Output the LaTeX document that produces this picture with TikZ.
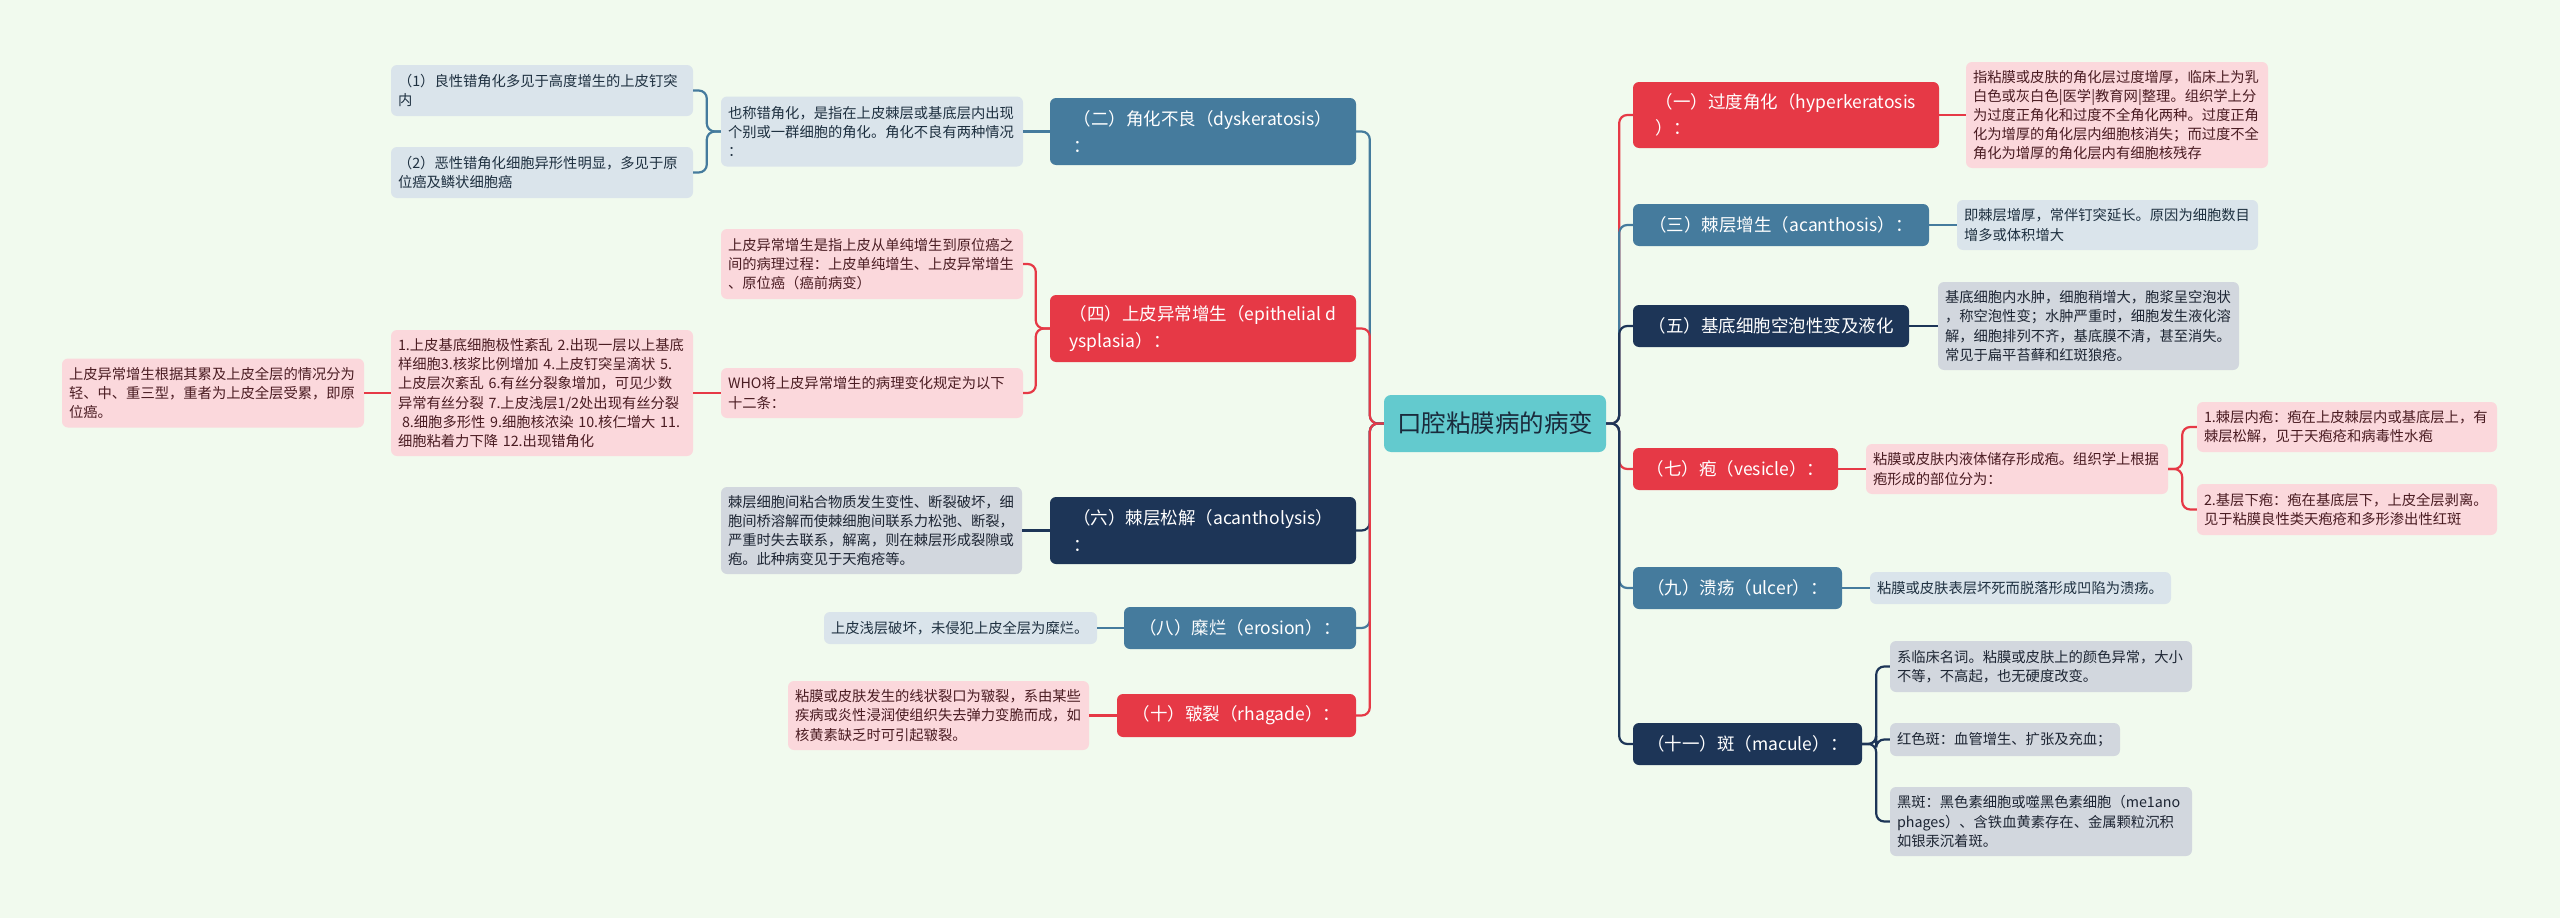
\documentclass[tikz,border=0pt]{standalone}
\usepackage{fontspec}
\setmainfont{Noto Sans CJK SC}
\definecolor{bg}{HTML}{F1FAEE}
\definecolor{cRed}{HTML}{E63946}
\definecolor{cBlue}{HTML}{457B9D}
\definecolor{cNavy}{HTML}{1D3557}
\definecolor{cTeal}{HTML}{63CACE}
\definecolor{pRed}{HTML}{FBD8DC}
\definecolor{pBlue}{HTML}{DAE4EB}
\definecolor{pNavy}{HTML}{D2D7DE}
\definecolor{tRed}{HTML}{4A1C22}
\definecolor{tBlue}{HTML}{1E3040}
\definecolor{tNavy}{HTML}{1D2533}
\definecolor{tCenter}{HTML}{1A2B3C}
\begin{document}
\begin{tikzpicture}[x=1pt,y=-1pt,
  mainbox/.style={rounded corners=6pt, text=white, font=\fontsize{17.5}{26.5}\selectfont, align=left, inner sep=0pt},
  redN/.style={mainbox, fill=cRed},
  blueN/.style={mainbox, fill=cBlue},
  navyN/.style={mainbox, fill=cNavy},
  detbox/.style={rounded corners=6pt, font=\fontsize{14.3}{19.2}\selectfont, align=left, inner xsep=7pt, inner ysep=0pt},
  dRed/.style={detbox, fill=pRed, text=tRed},
  dBlue/.style={detbox, fill=pBlue, text=tBlue},
  dNavy/.style={detbox, fill=pNavy, text=tNavy},
  link/.style={line width=2.2pt, rounded corners=8pt},
  sz/.style 2 args={minimum width=#1pt, minimum height=#2pt},
  dsz/.style 2 args={text width=#1pt-14pt, minimum height=#2pt}
]
\fill[bg] (0,0) rectangle (2560,918);
\useasboundingbox (0,0) rectangle (2560,918);

% center
\node[rounded corners=7pt, fill=cTeal, text=tCenter, font=\fontsize{24.5}{30}\selectfont, inner sep=0pt, sz={222}{57}] (c) at (1495,423.5) {口腔粘膜病的病变};

% left main nodes
\node[blueN, sz={306}{67}] (n2) at (1203,131.5) {（二）角化不良（dyskeratosis）\\：};
\node[redN, sz={306}{67}] (n4) at (1203,328.5) {（四）上皮异常增生（epithelial d\\ysplasia）：};
\node[navyN, sz={306}{67}] (n6) at (1203,530.5) {（六）棘层松解（acantholysis）\\：};
\node[blueN, sz={232}{42}] (n8) at (1240,628) {（八）糜烂（erosion）：};
\node[redN, sz={239}{43}] (n10) at (1236.5,715.5) {（十）皲裂（rhagade）：};

% right main nodes
\node[redN, sz={306}{66}] (n1) at (1786,115) {（一）过度角化（hyperkeratosis\\）：};
\node[blueN, sz={296}{42}] (n3) at (1781,225) {（三）棘层增生（acanthosis）：};
\node[navyN, sz={276}{42}] (n5) at (1771,326) {（五）基底细胞空泡性变及液化};
\node[redN, sz={205}{42}] (n7) at (1735.5,469) {（七）疱（vesicle）：};
\node[blueN, sz={209}{42}] (n9) at (1737.5,588) {（九）溃疡（ulcer）：};
\node[navyN, sz={229}{42}] (n11) at (1747.5,744) {（十一）斑（macule）：};

% left details
\node[dBlue, dsz={302}{70}] (d2) at (872,131.5) {也称错角化，是指在上皮棘层或基底层内出现\\个别或一群细胞的角化。角化不良有两种情况\\：};
\node[dBlue, dsz={302}{51}] (d2a) at (542,90.5) {（1）良性错角化多见于高度增生的上皮钉突\\内};
\node[dBlue, dsz={302}{51}] (d2b) at (542,172.5) {（2）恶性错角化细胞异形性明显，多见于原\\位癌及鳞状细胞癌};
\node[dRed, dsz={302}{70}] (d4a) at (872,264) {上皮异常增生是指上皮从单纯增生到原位癌之\\间的病理过程：上皮单纯增生、上皮异常增生\\、原位癌（癌前病变）};
\node[dRed, dsz={302}{50}] (d4b) at (872,393) {WHO将上皮异常增生的病理变化规定为以下\\十二条：};
\node[dRed, dsz={302}{126}] (d4c) at (542,393) {\mbox{1.上皮基底细胞极性紊乱 2.出现一层以上基底}\\\mbox{样细胞3.核浆比例增加 4.上皮钉突呈滴状 5.}\\\mbox{上皮层次紊乱 6.有丝分裂象增加，可见少数}\\\mbox{异常有丝分裂 7.上皮浅层1/2处出现有丝分裂}\\\mbox{\hspace*{4pt}8.细胞多形性 9.细胞核浓染 10.核仁增大 11.}\\\mbox{细胞粘着力下降 12.出现错角化}};
\node[dRed, dsz={302}{69}] (d4d) at (213,393) {上皮异常增生根据其累及上皮全层的情况分为\\轻、中、重三型，重者为上皮全层受累，即原\\位癌。};
\node[dNavy, dsz={301}{87}] (d6) at (871.5,530.5) {棘层细胞间粘合物质发生变性、断裂破坏，细\\胞间桥溶解而使棘细胞间联系力松弛、断裂，\\严重时失去联系，解离，则在棘层形成裂隙或\\疱。此种病变见于天疱疮等。};
\node[dBlue, dsz={273}{32}] (d8) at (960.5,628) {上皮浅层破坏，未侵犯上皮全层为糜烂。};
\node[dRed, dsz={301}{69}] (d10) at (938.5,715.5) {粘膜或皮肤发生的线状裂口为皲裂，系由某些\\疾病或炎性浸润使组织失去弹力变脆而成，如\\核黄素缺乏时可引起皲裂。};

% right details
\node[dRed, dsz={302}{106}] (d1) at (2117,115) {指粘膜或皮肤的角化层过度增厚，临床上为乳\\白色或灰白色|医学|教育网|整理。组织学上分\\为过度正角化和过度不全角化两种。过度正角\\化为增厚的角化层内细胞核消失；而过度不全\\角化为增厚的角化层内有细胞核残存};
\node[dBlue, dsz={301}{50}] (d3) at (2107.5,225) {即棘层增厚，常伴钉突延长。原因为细胞数目\\增多或体积增大};
\node[dNavy, dsz={301}{88}] (d5) at (2088.5,326) {基底细胞内水肿，细胞稍增大，胞浆呈空泡状\\，称空泡性变；水肿严重时，细胞发生液化溶\\解，细胞排列不齐，基底膜不清，甚至消失。\\常见于扁平苔藓和红斑狼疮。};
\node[dRed, dsz={302}{50}] (d7) at (2017,469) {粘膜或皮肤内液体储存形成疱。组织学上根据\\疱形成的部位分为：};
\node[dRed, dsz={300}{50}] (d7a) at (2347,427) {1.棘层内疱：疱在上皮棘层内或基底层上，有\\棘层松解，见于天疱疮和病毒性水疱};
\node[dRed, dsz={300}{51}] (d7b) at (2347,509.5) {2.基层下疱：疱在基底层下，上皮全层剥离。\\见于粘膜良性类天疱疮和多形渗出性红斑};
\node[dBlue, dsz={301}{32}] (d9) at (2020.5,588) {粘膜或皮肤表层坏死而脱落形成凹陷为溃疡。};
\node[dNavy, dsz={302}{51}] (d11a) at (2041,666.5) {系临床名词。粘膜或皮肤上的颜色异常，大小\\不等，不高起，也无硬度改变。};
\node[dNavy, dsz={230}{33}] (d11b) at (2005,739.5) {红色斑：血管增生、扩张及充血；};
\node[dNavy, dsz={302}{69}] (d11c) at (2041,821.5) {黑斑：黑色素细胞或噬黑色素细胞（me1ano\\phages）、含铁血黄素存在、金属颗粒沉积\\如银汞沉着斑。};

% trunk connectors (left)
\draw[link, cBlue] (c.west) -- ++(-14,0) |- (n2.east);
\draw[link, cRed] (c.west) -- ++(-14,0) |- (n4.east);
\draw[link, cNavy] (c.west) -- ++(-14,0) |- (n6.east);
\draw[link, cBlue] (c.west) -- ++(-14,0) |- (n8.east);
\draw[link, cRed] (c.west) -- ++(-14,0) |- (n10.east);
% trunk connectors (right)
\draw[link, cRed] (c.east) -- ++(13,0) |- (n1.west);
\draw[link, cBlue] (c.east) -- ++(13,0) |- (n3.west);
\draw[link, cNavy] (c.east) -- ++(13,0) |- (n5.west);
\draw[link, cRed] (c.east) -- ++(13,0) |- (n7.west);
\draw[link, cBlue] (c.east) -- ++(13,0) |- (n9.west);
\draw[link, cNavy] (c.east) -- ++(13,0) |- (n11.west);

% detail connectors left
\draw[link, cBlue] (n2.west) -- (d2.east);
\draw[link, cBlue] (d2.west) -- ++(-14,0) |- (d2a.east);
\draw[link, cBlue] (d2.west) -- ++(-14,0) |- (d2b.east);
\draw[link, cRed] (n4.west) -- ++(-14,0) |- (d4a.east);
\draw[link, cRed] (n4.west) -- ++(-14,0) |- (d4b.east);
\draw[link, cRed] (d4b.west) -- (d4c.east);
\draw[link, cRed] (d4c.west) -- (d4d.east);
\draw[link, cNavy] (n6.west) -- (d6.east);
\draw[link, cBlue] (n8.west) -- (d8.east);
\draw[link, cRed] (n10.west) -- (d10.east);
% detail connectors right
\draw[link, cRed] (n1.east) -- (d1.west);
\draw[link, cBlue] (n3.east) -- (d3.west);
\draw[link, cNavy] (n5.east) -- (d5.west);
\draw[link, cRed] (n7.east) -- (d7.west);
\draw[link, cRed] (d7.east) -- ++(14,0) |- (d7a.west);
\draw[link, cRed] (d7.east) -- ++(14,0) |- (d7b.west);
\draw[link, cBlue] (n9.east) -- (d9.west);
\draw[link, cNavy] (n11.east) -- ++(14,0) |- (d11a.west);
\draw[link, cNavy] (n11.east) -- ++(14,0) |- (d11b.west);
\draw[link, cNavy] (n11.east) -- ++(14,0) |- (d11c.west);
\end{tikzpicture}
\end{document}
